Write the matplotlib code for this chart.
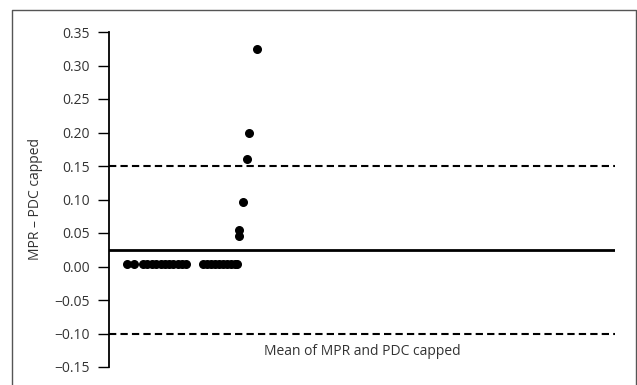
import matplotlib
matplotlib.use("Agg")
import matplotlib.pyplot as plt
from matplotlib.lines import Line2D

plt.rcParams['font.family'] = ['Open Sans', 'DejaVu Sans']

# Bland-Altman style data (x = mean of MPR and PDC capped, y = difference)
x_vals = [0.036, 0.049, 0.067, 0.075, 0.085, 0.093, 0.103, 0.111, 0.119, 0.127,
          0.136, 0.144, 0.152,
          0.186, 0.194, 0.202, 0.209, 0.217, 0.225, 0.233, 0.241, 0.249, 0.253,
          0.257, 0.257, 0.265, 0.273, 0.277, 0.292]
y_vals = [0.003] * 23 + [0.045, 0.055, 0.097, 0.160, 0.200, 0.325]

mean_diff = 0.025
upper_loa = 0.15
lower_loa = -0.10

y_ticks = [-0.15, -0.10, -0.05, 0.00, 0.05, 0.10, 0.15, 0.20, 0.25, 0.30, 0.35]

fig = plt.figure(figsize=(6.37, 3.85), dpi=100)
ax = fig.add_axes([109 / 637, 18 / 385, 506 / 637, 335 / 385])

# outer frame (open at the bottom)
fig.add_artist(Line2D([12 / 637, 12 / 637, 635.5 / 637, 635.5 / 637],
                      [0, 1 - 10 / 385, 1 - 10 / 385, 0],
                      transform=fig.transFigure, color='#555555', lw=1))

ax.scatter(x_vals, y_vals, s=30, color='black', zorder=3)
ax.axhline(mean_diff, color='black', lw=2)
ax.axhline(upper_loa, color='black', lw=1.5, ls=(0, (3.5, 2)))
ax.axhline(lower_loa, color='black', lw=1.5, ls=(0, (3.5, 2)))

ax.set_xlim(0, 1)
ax.set_ylim(-0.15, 0.35)
ax.set_yticks(y_ticks)
ax.set_yticklabels(['\u22120.15', '\u22120.10', '\u22120.05', '0.00', '0.05', '0.10',
                    '0.15', '0.20', '0.25', '0.30', '0.35'])
ax.set_xticks([])
for s in ['top', 'right', 'bottom']:
    ax.spines[s].set_visible(False)
ax.spines['left'].set_linewidth(1.3)
ax.tick_params(axis='y', direction='out', length=8, width=1, pad=6,
               labelsize=10, labelcolor='#333333')

ax.set_ylabel('MPR \u2013 PDC capped', fontsize=10, color='#333333', labelpad=8)
ax.text(0.5, 0.045, 'Mean of MPR and PDC capped', transform=ax.transAxes,
        ha='center', va='center', fontsize=10, color='#333333')

fig.savefig('out.png', dpi=100)
